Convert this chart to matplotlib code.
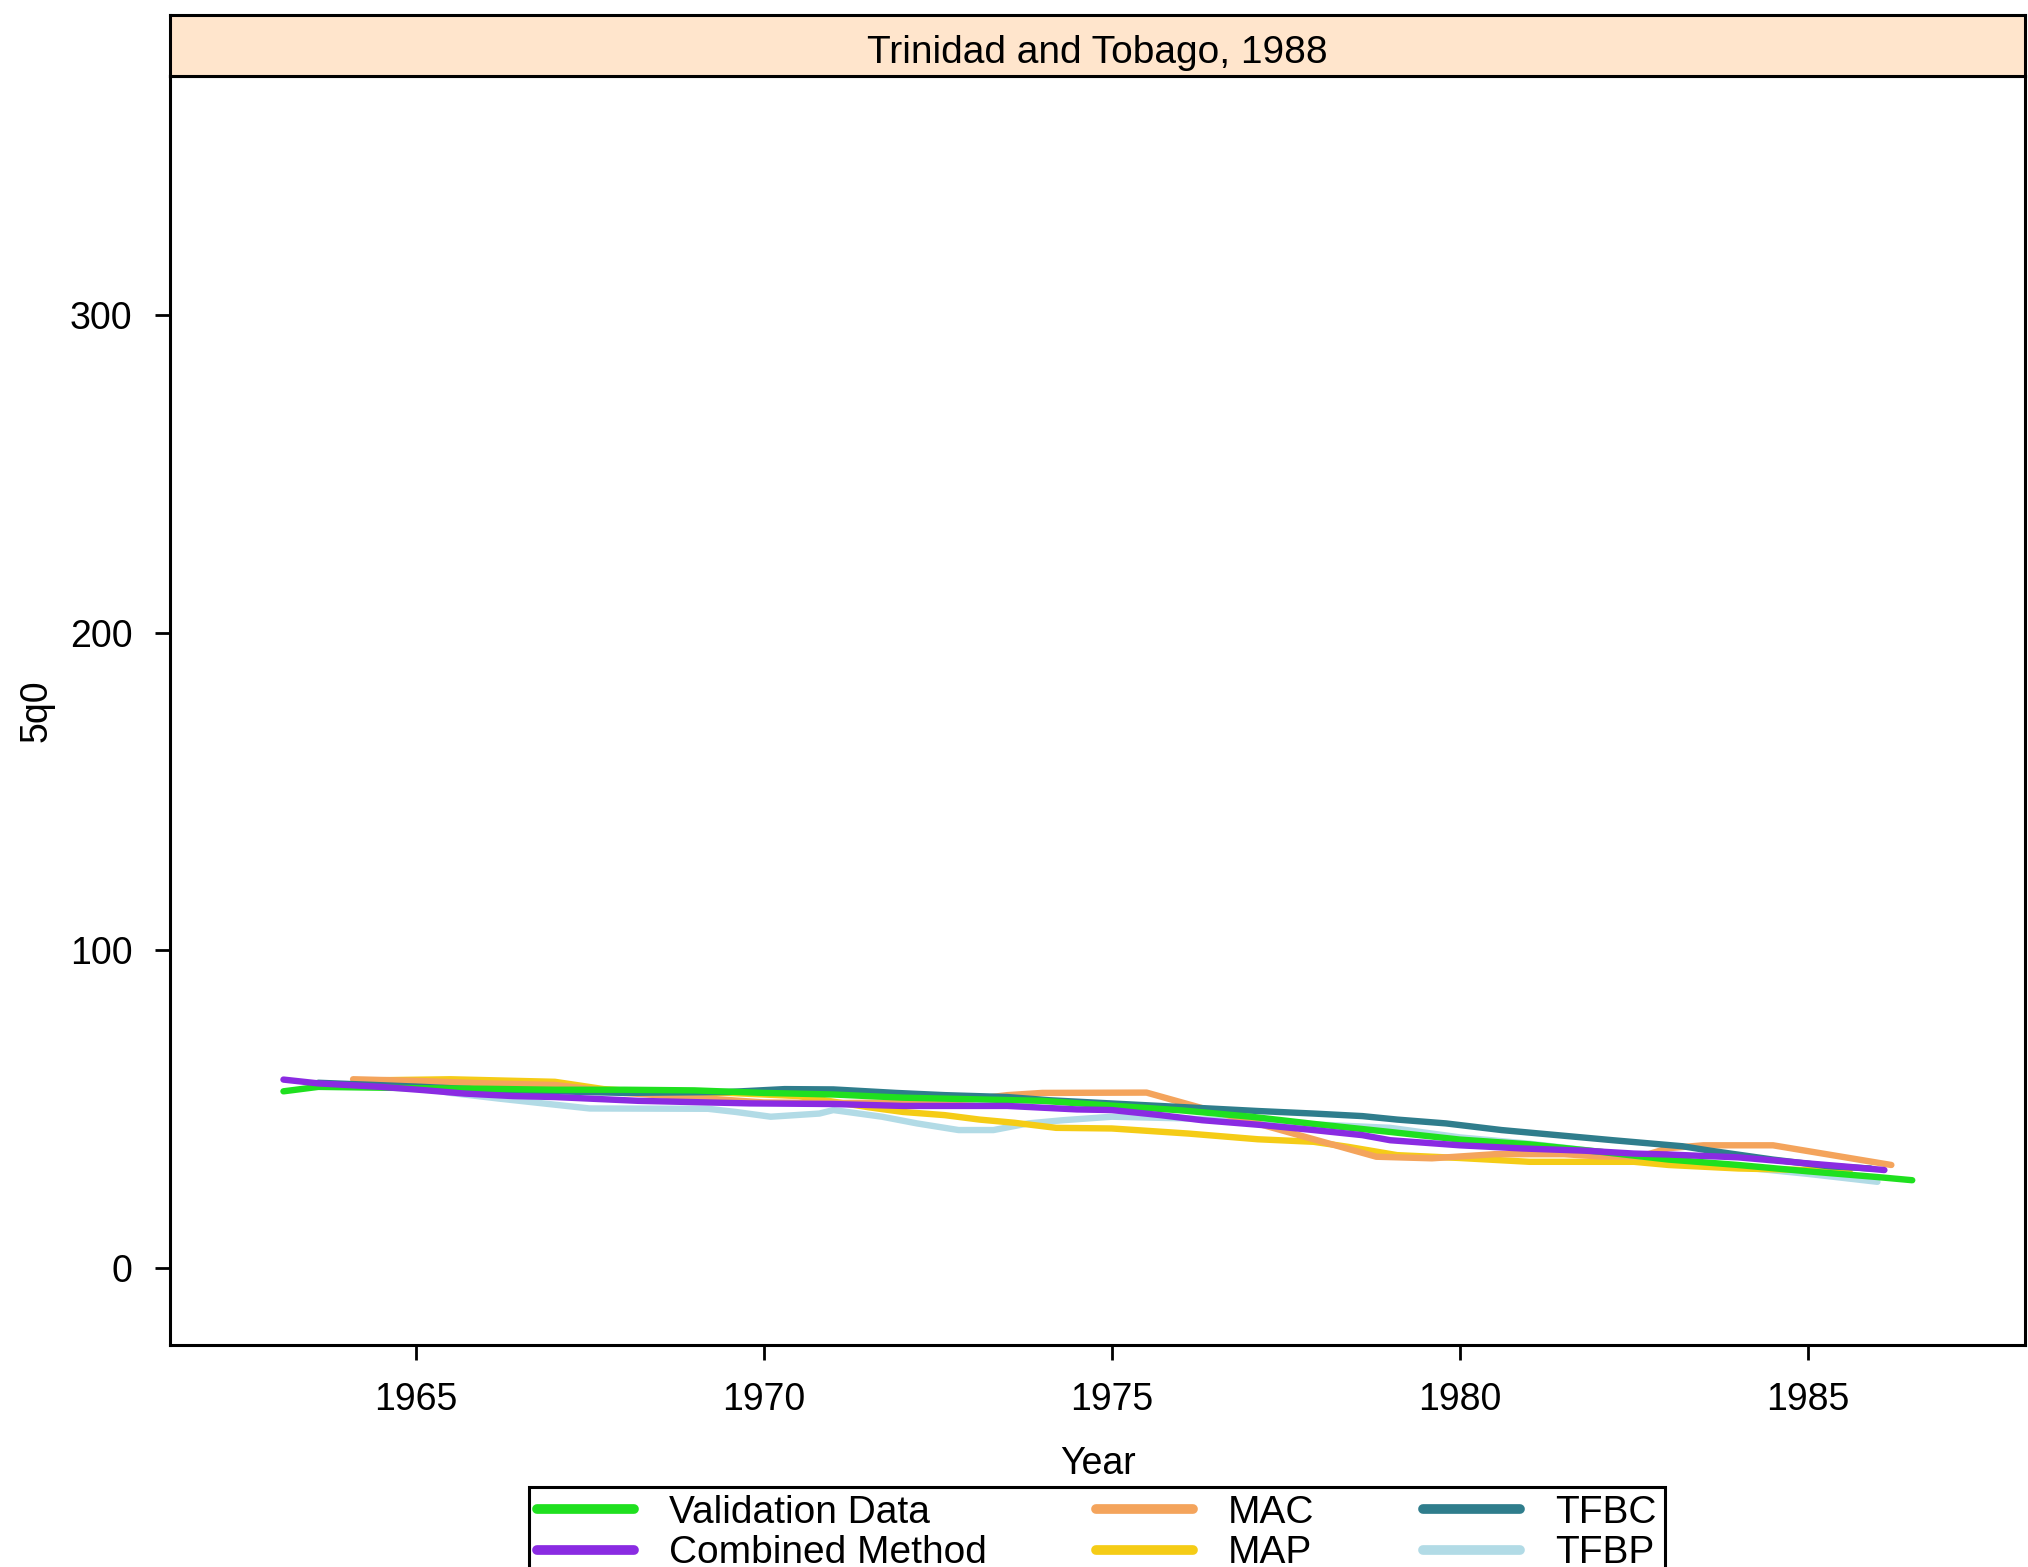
import numpy as np
import matplotlib
matplotlib.use("Agg")
import matplotlib.pyplot as plt

plt.rcParams["font.family"] = ["Liberation Sans", "DejaVu Sans"]

# series (year, 5q0)
val_years = [1963.1, 1963.6, 1965, 1966, 1967, 1968, 1969, 1970, 1971, 1972, 1973, 1974,
             1975, 1976, 1977, 1978, 1979, 1980, 1981, 1982, 1983, 1984, 1985, 1986, 1986.5]
val_q = [55.5, 56.9, 56.5, 56.3, 56.0, 56.0, 55.8, 55.0, 54.5, 53.5, 53.0, 52.5,
         51.0, 49.5, 47.5, 45.0, 42.7, 40.3, 38.8, 36.5, 34.0, 32.3, 30.3, 28.5, 27.5]

comb_years = [1963.1, 1963.6, 1964.5, 1965.1, 1965.7, 1966.4, 1967, 1968.2, 1969.8, 1971, 1972,
              1973.5, 1974.5, 1975, 1975.7, 1976.3, 1977.2, 1977.9, 1978.6, 1979, 1980, 1980.9,
              1981.8, 1982.5, 1983, 1984, 1985, 1985.6, 1986.1]
comb_q = [59.2, 58.0, 56.9, 55.9, 54.8, 54.0, 53.7, 52.5, 51.7, 51.5, 50.9,
          50.9, 49.8, 49.6, 48.0, 46.4, 44.8, 43.3, 41.7, 40.1, 38.5, 37.5,
          36.8, 35.9, 35.6, 34.7, 32.8, 31.7, 30.7]

mac_years = [1964.1, 1965, 1966, 1967, 1968, 1969, 1970, 1971, 1972, 1973, 1973.5, 1974,
             1975.5, 1978.8, 1979.6, 1980.5, 1981.5, 1982, 1982.6, 1983, 1983.5, 1984.5, 1986.2]
mac_q = [59.3, 58.8, 58.0, 57.5, 55.0, 53.5, 52.0, 51.8, 52.0, 53.0, 54.3, 55.0,
         55.1, 34.9, 34.4, 35.7, 35.7, 35.0, 35.0, 37.6, 38.5, 38.5, 32.3]

map_years = [1964.5, 1965.5, 1967, 1967.7, 1968.5, 1969.5, 1970.5, 1971.5, 1972, 1972.6, 1973.1,
             1973.6, 1974.2, 1975, 1976.1, 1977.1, 1977.9, 1978.4, 1979.1, 1980, 1981, 1982.5,
             1983, 1984, 1985, 1985.6]
map_q = [59.0, 59.3, 58.5, 56.2, 55.0, 55.0, 54.0, 50.5, 49.0, 48.0, 46.6,
         45.6, 44.0, 43.8, 42.2, 40.4, 39.6, 38.0, 35.4, 34.5, 33.3, 33.3,
         32.3, 31.2, 30.7, 30.2]

tfbc_years = [1963.6, 1965, 1966, 1967, 1968, 1969.5, 1970.3, 1971, 1971.9, 1972.6, 1973.5,
              1974.1, 1974.8, 1976.4, 1977.1, 1977.9, 1978.6, 1979.1, 1979.8, 1980.6, 1981.4,
              1982.2, 1983.2, 1983.6, 1984.5, 1985.3, 1985.9]
tfbc_q = [58.2, 57.0, 56.0, 55.5, 55.0, 55.3, 56.2, 56.1, 55.0, 54.3, 53.7,
          52.7, 51.9, 50.1, 49.3, 48.5, 47.7, 46.6, 45.4, 43.3, 41.7,
          40.1, 38.2, 36.8, 34.0, 31.9, 31.2]

tfbp_years = [1964.7, 1965.5, 1966.2, 1967.5, 1969.2, 1969.6, 1970.1, 1970.8, 1971, 1971.7, 1972.2,
              1972.8, 1973.3, 1973.8, 1974.3, 1975, 1976, 1977, 1978, 1979, 1980, 1981,
              1982, 1983, 1984, 1985, 1986]
tfbp_q = [58.0, 55.0, 53.2, 50.1, 50.0, 49.0, 47.5, 48.5, 49.6, 47.5, 45.4,
          43.3, 43.3, 45.4, 46.4, 47.5, 47.0, 46.0, 45.0, 44.0, 41.0, 39.0,
          36.5, 34.0, 31.7, 29.5, 27.0]

labels = ["Validation Data", "Combined Method", "MAC", "MAP", "TFBC", "TFBP"]
colors = ["#1fe01f", "#8a2be2", "#f4a45c", "#f5cc16", "#2f7d8c", "#b2dbe6"]
series = [(val_years, val_q), (comb_years, comb_q), (mac_years, mac_q),
          (map_years, map_q), (tfbc_years, tfbc_q), (tfbp_years, tfbp_q)]

W, H = 2028, 1567
fig = plt.figure(figsize=(W / 200, H / 200), dpi=200)

ax = fig.add_axes([170 / W, 1 - 1345 / H, (2025 - 170) / W, (1345 - 76) / H])
strip = fig.add_axes([170 / W, 1 - 76 / H, (2025 - 170) / W, (76 - 15) / H])

# draw in an order so the legend keeps its column layout
draw_order = [5, 3, 2, 4, 0, 1]
handles = [None] * 6
for i in draw_order:
    x, y = series[i]
    h, = ax.plot(x, y, color=colors[i], lw=2.3, label=labels[i], solid_capstyle="round")
    handles[i] = h

ax.set_xlim(1961.47, 1988.12)
ax.set_ylim(-24.4, 375.3)
ax.set_xticks([1965, 1970, 1975, 1980, 1985])
ax.set_yticks([0, 100, 200, 300])
ax.tick_params(direction="out", length=5.5, width=1.0, labelsize=13.5, pad=8,
               top=False, right=False)
for s in ax.spines.values():
    s.set_linewidth(1.1)
ax.set_xlabel("Year", fontsize=13.5, labelpad=10)
ax.set_ylabel("5q0", fontsize=13.5)
ax.yaxis.set_label_coords(-0.062, 0.5)

strip.set_facecolor("#ffe5cc")
strip.set_xticks([])
strip.set_yticks([])
for s in strip.spines.values():
    s.set_linewidth(1.1)
strip.text(0.5, 0.38, "Trinidad and Tobago, 1988", ha="center", va="center",
           fontsize=14, transform=strip.transAxes)

leg = fig.legend(handles=handles, labels=labels, ncol=3, loc="upper left",
                 bbox_to_anchor=(529 / W, 1 - 1487 / H), fontsize=14,
                 frameon=True, fancybox=False, edgecolor="black", framealpha=1,
                 handlelength=2.5, handletextpad=0.9, columnspacing=2.8,
                 labelspacing=0.12, borderpad=0.2, borderaxespad=0)
leg.get_frame().set_linewidth(1.1)
for line in leg.get_lines():
    line.set_linewidth(3.5)

fig.savefig("out.png", dpi=200)
